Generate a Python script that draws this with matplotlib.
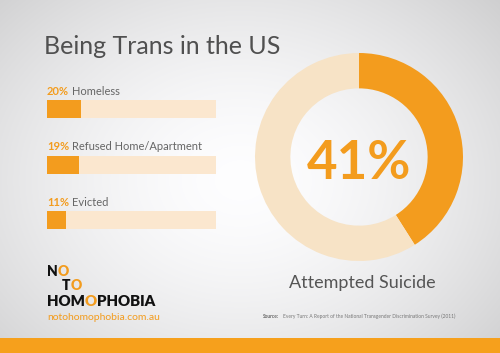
import numpy as np
import matplotlib
matplotlib.use('Agg')
from matplotlib import pyplot as plt
from matplotlib import transforms

# data
labels = ['Homeless', 'Refused Home/Apartment', 'Evicted']
values = [20, 19, 11]
donut_value = 41
donut_label = 'Attempted Suicide'
title = 'Being Trans in the US'
source = 'Every Turn: A Report of the National Transgender Discrimination Survey (2011)'

orange = '#F39C1E'
track = '#FBE7CF'
ring_track = '#F7E3C6'

W, H = 500, 353
fig = plt.figure(figsize=(W / 100, H / 100), dpi=100)
renderer = fig.canvas.get_renderer()

# background: soft grey with a light centre
bg = fig.add_axes([0, 0, 1, 1])
yy, xx = np.mgrid[0:H, 0:W]
d = np.sqrt(((xx - 240) / 330) ** 2 + ((yy - 180) / 260) ** 2)
shade = np.clip(1 - 0.17 * d ** 1.6, 0, 1)
img = np.dstack([shade * 0.995, shade * 0.995, shade])
bg.imshow(img, extent=[0, W, H, 0], aspect='auto', interpolation='bilinear')
bg.set_xlim(0, W)
bg.set_ylim(H, 0)
bg.axis('off')

# orange strip at the bottom
bg.add_patch(plt.Rectangle((0, 338), W, 15, color='#F6A01C', lw=0))

bg.text(44, 47, title, fontsize=18, color='#505050', family='Lato',
        va='center', ha='left')

# horizontal bars
bar_h = 18 / 55.5
ax = fig.add_axes([47 / W, 1 - 229 / H, 169 / W, 129 / H])
ax.patch.set_alpha(0)
y = np.arange(len(labels))
ax.barh(y, [100] * len(labels), height=bar_h, color=track, lw=0)
ax.barh(y, values, height=bar_h, color=orange, lw=0)
ax.set_xlim(0, 100)
ax.set_ylim(len(labels) - 1 + bar_h / 2, -bar_h / 2)
ax.axis('off')
for i, (lab, v) in enumerate(zip(labels, values)):
    ax.text(0, i - bar_h / 2 - 0.16, f'{v}%', fontsize=8, fontweight='bold',
            color=orange, family='Lato', va='center', ha='left', clip_on=False)
    tr = transforms.offset_copy(ax.transData, fig=fig, x=18, y=0, units='points')
    ax.text(0, i - bar_h / 2 - 0.16, lab, fontsize=8, color='#666666',
            family='Lato', va='center', ha='left', transform=tr, clip_on=False)

# donut
r = 104
cx, cy = 359, 157
dax = fig.add_axes([(cx - r) / W, 1 - (cy + r) / H, 2 * r / W, 2 * r / H])
dax.pie([donut_value, 100 - donut_value], colors=[orange, ring_track],
        startangle=90, counterclock=False, radius=1,
        wedgeprops=dict(width=0.34, linewidth=0))
dax.set_xlim(-1, 1)
dax.set_ylim(-1, 1)
dax.set_aspect('auto')
dax.text(0, -0.06, f'{donut_value}%', fontsize=38, fontweight='bold',
         color=orange, family='Lato', ha='center', va='center')

bg.text(362, 283, donut_label, fontsize=13, color='#555555', family='Lato',
        ha='center', va='center')
bg.text(263, 316, 'Source:', fontsize=3.5, fontweight='bold', color='#666666',
        family='Lato', ha='left', va='center')
bg.text(283, 316, source, fontsize=3.5, color='#777777', family='Lato',
        ha='left', va='center')


# logo: pieces placed one after another
def logo_line(x, yp, parts, size):
    for s, c in parts:
        t = bg.text(x, yp, s, fontsize=size, color=c, family='Lato',
                    fontweight='heavy', va='center', ha='left')
        bb = t.get_window_extent(renderer)
        x += bb.width
    return x


logo_line(47, 272, [('N', '#111111'), ('O', orange)], 10)
logo_line(62, 286, [('T', '#111111'), ('O', orange)], 10)
logo_line(47, 302, [('HOM', '#111111'), ('O', orange), ('PHOBIA', '#111111')], 10.8)
bg.text(47, 317, 'notohomophobia.com.au', fontsize=7.5, color=orange,
        family='Lato', va='center', ha='left')

fig.savefig('out.png', dpi=100)
